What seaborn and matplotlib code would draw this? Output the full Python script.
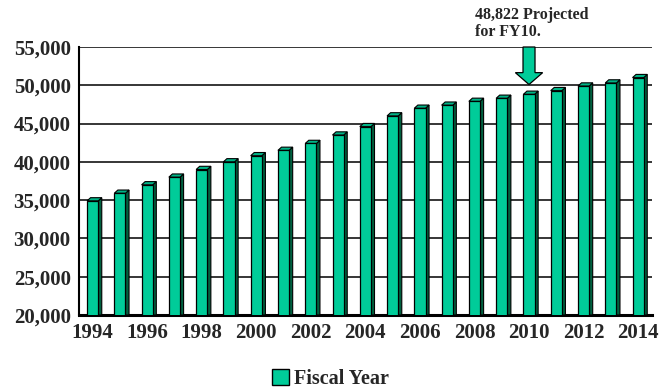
import matplotlib
matplotlib.use("Agg")
import matplotlib.pyplot as plt
import seaborn as sns
import pandas as pd
from matplotlib.patches import Polygon, Patch, FancyArrow

years = list(range(1994, 2015))
values = [34900, 35900, 37000, 38000, 39000, 40000, 40800, 41500, 42400,
          43500, 44600, 46000, 47000, 47400, 47900, 48300, 48822, 49300,
          49900, 50300, 51000]
series_name = "Fiscal Year"
annotation_text = "48,822 Projected\nfor FY10."
annot_year = 2010
y_ticks = [20000, 25000, 30000, 35000, 40000, 45000, 50000, 55000]

FRONT = "#00CC99"
SIDE = "#00603F"
TOP = "#00B386"

sns.set_style("white")
plt.rcParams["font.family"] = ["Liberation Serif", "DejaVu Serif"]
plt.rcParams["font.weight"] = "bold"

df = pd.DataFrame({"year": [str(y) for y in years], "value": values})

fig = plt.figure(figsize=(6.61, 3.91), dpi=100)
ax = fig.add_axes([0.1195, 0.1944, 0.8665, 0.6854])

sns.barplot(data=df, x="year", y="value", color=FRONT, width=0.41,
            edgecolor="black", linewidth=0.9, saturation=1, ax=ax, zorder=3)

ymin, ymax = 20000, 55000
ax.set_ylim(ymin, ymax)
ax.set_xlim(-0.5, len(years) - 0.5)

# pseudo 3D depth for each bar
dx = 0.13
dy = 420
for p in ax.patches:
    x0 = p.get_x()
    w = p.get_width()
    h = p.get_height()
    x1 = x0 + w
    side = Polygon([(x1, ymin), (x1 + dx, ymin), (x1 + dx, h + dy), (x1, h)],
                   closed=True, fc=SIDE, ec="black", lw=0.8, zorder=2.9)
    top = Polygon([(x0, h), (x0 + dx, h + dy), (x1 + dx, h + dy), (x1, h)],
                  closed=True, fc=TOP, ec="black", lw=0.8, zorder=2.9)
    ax.add_patch(side)
    ax.add_patch(top)

# grid lines
for t in y_ticks:
    ax.axhline(t, color="black", lw=1.1, zorder=1)

ax.set_yticks(y_ticks)
ax.set_yticklabels([f"{t:,}" for t in y_ticks], fontsize=15, fontweight="bold")

# major ticks at category boundaries, labels at every other category
bounds = [i - 0.5 for i in range(len(years) + 1)]
ax.set_xticks(bounds)
ax.set_xticklabels([""] * len(bounds))
ax.set_xticks([i for i, y in enumerate(years) if y % 2 == 0], minor=True)
ax.set_xticklabels([str(y) for y in years if y % 2 == 0], minor=True,
                   fontsize=15, fontweight="bold")
ax.tick_params(axis="x", which="major", length=4, width=1.2, color="black", direction="out")
ax.tick_params(axis="x", which="minor", length=0, pad=6)
ax.tick_params(axis="y", length=4, width=1.2, color="black", direction="out", pad=2)
ax.set_xlabel("")
ax.set_ylabel("")

for s in ["top", "right"]:
    ax.spines[s].set_visible(False)
ax.spines["left"].set_linewidth(1.5)
ax.spines["left"].set_color("black")
ax.spines["bottom"].set_linewidth(2.2)
ax.spines["bottom"].set_color("black")

# annotation arrow and text
ai = years.index(annot_year)
arrow = FancyArrow(ai, ymax, 0, -(ymax - 50100), width=0.44, head_width=1.0,
                   head_length=1550, length_includes_head=True,
                   fc=FRONT, ec="black", lw=0.9, clip_on=False, zorder=5)
ax.add_patch(arrow)
ax.text(ai - 1.98, ymax + 900, annotation_text, fontsize=11.5, fontweight="bold",
        ha="left", va="bottom", linespacing=1.1)

handle = Patch(facecolor=FRONT, edgecolor="black", linewidth=1.0)
fig.legend([handle], [series_name], loc="center", bbox_to_anchor=(0.5, 1 - 379 / 391),
           frameon=False, handlelength=0.85, handleheight=0.85, handletextpad=0.25,
           prop={"size": 14.5, "weight": "bold"})

fig.savefig("out.png", dpi=100)
